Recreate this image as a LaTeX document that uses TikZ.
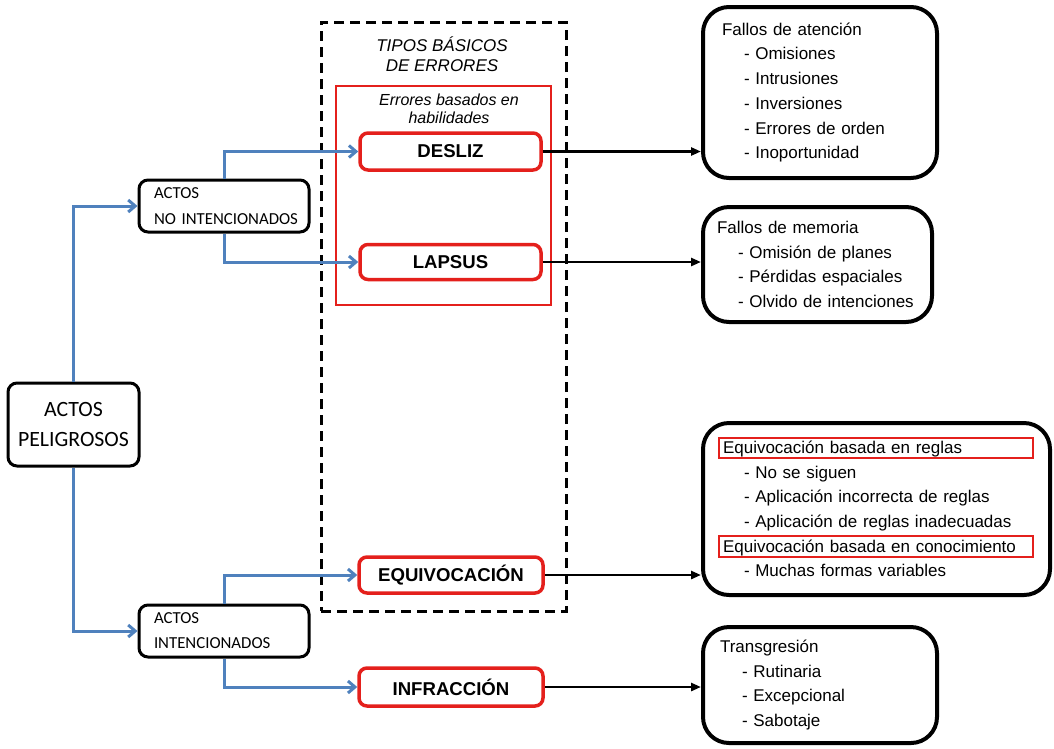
\documentclass[tikz,border=0pt]{standalone}
\usepackage{fontspec}
\setmainfont{Liberation Sans}
\newfontfamily\calfont{Carlito}
\usetikzlibrary{arrows.meta}
\definecolor{flowblue}{RGB}{79,129,189}
\definecolor{errred}{RGB}{228,32,28}

\begin{document}
\begin{tikzpicture}[x=1pt,y=-1pt,
  actbox/.style={draw=black, line width=3pt, rounded corners=9pt, inner sep=0pt, fill=white},
  errbox/.style={draw=errred, line width=3.5pt, rounded corners=8pt, inner sep=0pt, fill=white,
    font=\bfseries\fontsize{18.6}{20}\selectfont},
  infobox/.style={draw=black, line width=4pt, rounded corners=26pt, inner xsep=0pt, inner ysep=0pt,
    align=left, font=\fontsize{17}{24.7}\selectfont},
  hlbox/.style={draw=errred, line width=2pt, inner sep=0pt},
  typebox/.style={draw=black, line width=3pt, dash pattern=on 10pt off 6pt, inner sep=0pt},
  skillbox/.style={draw=errred, line width=2pt, inner sep=0pt},
  flow/.style={draw=flowblue, line width=3pt, -{Straight Barb[length=7pt,width=12pt]}},
  link/.style={draw=black, line width=2.5pt, -{Triangle[length=10pt,width=8pt]}}
]
\useasboundingbox (0,0) rectangle (1054,748);

% error-type frames
\node[typebox, minimum width=245pt, minimum height=589pt] (tipos) at (443.5,316.5) {};
\node[align=center, font=\itshape\fontsize{17}{20}\selectfont] (tiposlbl) at (442,54) {TIPOS BÁSICOS\\DE ERRORES};
\node[skillbox, minimum width=215pt, minimum height=219pt] (habil) at (443.5,195.5) {};
\node[align=center, font=\itshape\fontsize{16}{18}\selectfont] (habillbl) at (449,109) {Errores basados en\\habilidades};

% acts
\node[actbox, minimum width=131pt, minimum height=83pt, align=center,
      font=\calfont\fontsize{21.8}{30}\selectfont] (pelig) at (73.5,424.5) {ACTOS\\PELIGROSOS};
\node[actbox, minimum width=170pt, minimum height=52pt, text width=140pt, align=left,
      font=\calfont\fontsize{16.8}{26}\selectfont] (nointen) at (224,206) {ACTOS\\\mbox{NO INTENCIONADOS}};
\node[actbox, minimum width=170pt, minimum height=52pt, text width=140pt, align=left,
      font=\calfont\fontsize{16.8}{25}\selectfont] (inten) at (224,631) {ACTOS\\\mbox{INTENCIONADOS}};

% basic error types
\node[errbox, minimum width=181pt, minimum height=37pt] (desliz) at (450.5,151.5) {DESLIZ};
\node[errbox, minimum width=181pt, minimum height=35pt] (lapsus) at (450.5,262) {LAPSUS};
\node[errbox, minimum width=184pt, minimum height=36pt] (equiv) at (451,575) {EQUIVOCACIÓN};
\node[errbox, minimum width=184pt, minimum height=38pt] (infra) at (451,687) {INFRACCIÓN};

% descriptions
\node[infobox, minimum width=234pt, minimum height=171pt, text width=196pt] (atencion) at (820,92.5)
  {Fallos de atención\\
   \hspace*{22pt}- Omisiones\\
   \hspace*{22pt}- Intrusiones\\
   \hspace*{22pt}- Inversiones\\
   \hspace*{22pt}- Errores de orden\\
   \hspace*{22pt}- Inoportunidad};
\node[infobox, minimum width=229pt, minimum height=115pt, text width=201pt] (memoria) at (817.5,264.5)
  {Fallos de memoria\\
   \hspace*{21pt}- Omisión de planes\\
   \hspace*{21pt}- Pérdidas espaciales\\
   \hspace*{21pt}- Olvido de intenciones};
\node[infobox, minimum width=347pt, minimum height=172pt, text width=307pt] (reglas) at (876.5,509)
  {Equivocación basada en reglas\\
   \hspace*{21pt}- No se siguen\\
   \hspace*{21pt}- Aplicación incorrecta de reglas\\
   \hspace*{21pt}- Aplicación de reglas inadecuadas\\
   \mbox{Equivocación basada en conocimiento}\\
   \hspace*{21pt}- Muchas formas variables};
\node[hlbox, minimum width=314pt, minimum height=20pt] (hlreglas) at (876,448) {};
\node[hlbox, minimum width=314pt, minimum height=21pt] (hlconoc) at (876,546.5) {};
\node[infobox, minimum width=234pt, minimum height=116pt, text width=200pt] (transg) at (820,685)
  {Transgresión\\
   \hspace*{22pt}- Rutinaria\\
   \hspace*{22pt}- Excepcional\\
   \hspace*{22pt}- Sabotaje};

% classification flow
\draw[flow] (pelig.north) |- (nointen.west);
\draw[flow] (pelig.south) |- (inten.west);
\draw[flow] (nointen.north) |- (desliz.west);
\draw[flow] (nointen.south) |- (lapsus.west);
\draw[flow] (inten.north) |- (equiv.west);
\draw[flow] (inten.south) |- (infra.west);

% links to descriptions
\draw[link] (desliz.east) -- (desliz.east -| atencion.west);
\draw[link] (lapsus.east) -- (lapsus.east -| memoria.west);
\draw[link] (equiv.east) -- (equiv.east -| reglas.west);
\draw[link] (infra.east) -- (infra.east -| transg.west);
\end{tikzpicture}
\end{document}
